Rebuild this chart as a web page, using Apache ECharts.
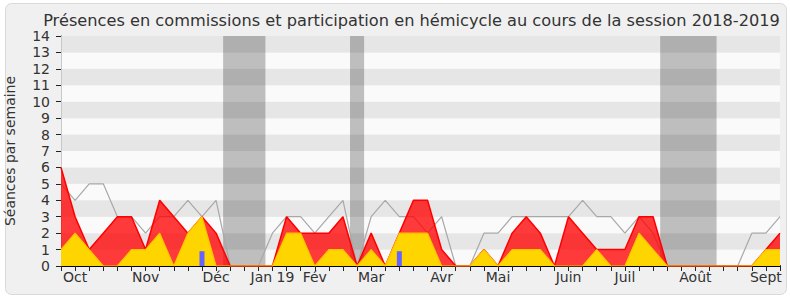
<!DOCTYPE html>
<html>
<head>
<meta charset="utf-8">
<script src="https://cdn.jsdelivr.net/npm/echarts@6/dist/echarts.min.js"></script>
<style>html,body{margin:0;padding:0;background:#fff}#c{width:790px;height:300px}</style>
</head>
<body>
<div id="c"></div>
<script>
// Weekly values, session 2018-2019 (52 weeks)
var totalPresence = [6,3,1,2,3,3,1,4,3,2, 3,2,0,0,0,0,3,2,2,2, 3,0,2,0,2,4,4,1,0,0, 1,0,2,3,2,0,3,2,1,1, 1,3,3,0,0,0,0,0,0,0, 1,2];
var commissionPresence = [1,2,1,0,0,1,1,2,0,2, 3,0,0,0,0,0,2,2,0,1, 1,0,1,0,2,2,2,0,0,0, 1,0,1,1,1,0,0,0,1,0, 0,2,1,0,0,0,0,0,0,0, 1,1];
var medianPresence = [5,4,5,5,3,3,2,3,3,4, 3,4,0,0,0,2,3,3,2,3, 4,0,3,4,3,3,2,3,0,0, 2,2,3,3,3,3,3,4,3,3, 2,3,2,0,0,0,0,0,0,2, 2,3];
var questionWeeks = [10, 24];
var questionValues = [0.9, 0.9];
var monthWeeks = [1, 6, 11, 15, 18, 22, 27, 31, 36, 40, 45, 50];
var monthLabels = ['Oct', 'Nov', 'Déc', 'Jan 19', 'Fév', 'Mar', 'Avr', 'Mai', 'Juin', 'Juil', 'Août', 'Sept'];
var holidayStart = [11.5, 20.5, 42.5];
var holidayEnd = [14.5, 21.5, 46.5];
var yTicks = [0, 14, 1];

function pairs(arr) { return arr.map(function (v, i) { return [i, v]; }); }
var nWeeks = totalPresence.length;
var FONT = 'DejaVu Sans';

var chart = echarts.init(document.getElementById('c'), null, { renderer: 'svg' });
chart.setOption({
  backgroundColor: '#ffffff',
  animation: false,
  textStyle: { fontFamily: FONT },
  graphic: [
    { type: 'rect', z: -100, zlevel: 0, silent: true,
      shape: { x: 5.5, y: 3.5, width: 781, height: 291, r: 6 },
      style: { fill: '#f0f0f0', stroke: '#d9d9d9', lineWidth: 1 } },
    { type: 'text', z: 10, x: 411.5, y: 20,
      style: { text: 'Présences en commissions et participation en hémicycle au cours de la session 2018-2019',
        font: '16.2px "DejaVu Sans"', fill: '#333333', align: 'center', verticalAlign: 'middle' } }
  ],
  grid: { left: 61, right: 10, top: 36, bottom: 34, containLabel: false, outerBoundsMode: 'none' },
  xAxis: [
    { type: 'value', position: 'bottom', min: 0, max: nWeeks - 1, interval: 1,
      axisLine: { show: true, onZero: false, lineStyle: { color: '#000000', width: 1 } },
      axisTick: { show: true, length: 5, lineStyle: { color: '#222222' } },
      splitLine: { show: false },
      axisLabel: { show: true, margin: 4, fontSize: 14, color: '#333333', fontFamily: FONT,
        showMinLabel: true, showMaxLabel: true,
        formatter: function (v) { var k = monthWeeks.indexOf(Math.round(v)); return k >= 0 ? monthLabels[k] : ''; } } },
    { type: 'value', position: 'top', min: 0, max: nWeeks - 1, interval: 1,
      axisLine: { show: false },
      axisTick: { show: true, length: 1, lineStyle: { color: '#444444' } },
      axisLabel: { show: false }, splitLine: { show: false } }
  ],
  yAxis: [
    { type: 'value', min: yTicks[0], max: yTicks[1], interval: yTicks[2],
      name: 'Séances par semaine', nameLocation: 'middle', nameGap: 44,
      nameTextStyle: { fontSize: 14, color: '#333333', fontFamily: FONT },
      axisLine: { show: true, lineStyle: { color: '#000000', width: 1 } },
      axisTick: { show: true, length: 5, lineStyle: { color: '#222222' } },
      axisLabel: { margin: 11, fontSize: 14, color: '#333333', fontFamily: FONT },
      splitLine: { show: false },
      splitArea: { show: true, areaStyle: { color: ['#fafafa', '#e6e6e6'] } } },
    { type: 'value', position: 'right', min: yTicks[0], max: yTicks[1], interval: yTicks[2],
      axisLine: { show: true, lineStyle: { color: '#c8c8c8', width: 1 } },
      axisTick: { show: false }, axisLabel: { show: false }, splitLine: { show: false }, splitArea: { show: false } }
  ],
  series: [
    { type: 'line', name: 'holidays', data: [], z: 1, silent: true,
      markArea: { silent: true, itemStyle: { color: 'rgba(0,0,0,0.24)' },
        data: holidayStart.map(function (s, k) { return [{ xAxis: s, yAxis: yTicks[1] }, { xAxis: holidayEnd[k], yAxis: yTicks[0] }]; }) } },
    { type: 'line', name: 'median', data: pairs(medianPresence), z: 2, symbol: 'none',
      lineStyle: { color: '#a8a8a8', width: 1.2 } },
    { type: 'line', name: 'total', data: pairs(totalPresence), z: 3, symbol: 'none',
      lineStyle: { color: '#ff0000', width: 1.5 },
      areaStyle: { color: 'rgba(255,0,0,0.77)', opacity: 1, origin: 'start' } },
    { type: 'line', name: 'commission', data: pairs(commissionPresence), z: 4, symbol: 'none',
      lineStyle: { color: '#ffc400', width: 1.2 },
      areaStyle: { color: '#ffd500', opacity: 1, origin: 'start' } },
    { type: 'bar', name: 'questions', data: questionWeeks.map(function (w, k) { return [w, questionValues[k]]; }),
      z: 5, barWidth: 5, itemStyle: { color: '#6464ff' } }
  ]
});
</script>
</body>
</html>
